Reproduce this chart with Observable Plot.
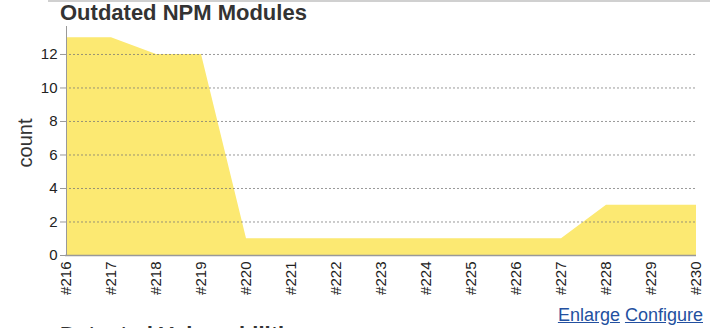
<!DOCTYPE html>
<html>
<head>
<meta charset="utf-8">
<script src="https://cdn.jsdelivr.net/npm/d3@7"></script>
<script src="https://cdn.jsdelivr.net/npm/@observablehq/plot@0.6"></script>
<style>
  html, body { margin: 0; padding: 0; background: #fff; }
  body { width: 710px; height: 328px; position: relative; overflow: hidden; font-family: "Liberation Sans", Arial, sans-serif; }
  #topline { position: absolute; left: 48px; top: 0; width: 662px; height: 2px; background: #d0d0d0; }
  .title { position: absolute; left: 60px; font-size: 22px; font-weight: bold; color: #333; white-space: nowrap; line-height: 1; }
  #ylabel { position: absolute; left: 25px; top: 143px; transform: translate(-50%, -50%) rotate(-90deg); font-size: 20px; color: #333; white-space: nowrap; }
  #links { position: absolute; right: 7px; top: 305px; font-size: 18px; white-space: nowrap; }
  #links a { color: #2350a0; text-decoration: underline; }
  #chart { position: absolute; left: 0; top: 0; }
</style>
</head>
<body>
<div id="topline"></div>
<div class="title" style="top:2px">Outdated NPM Modules</div>
<div id="chart"></div>
<div id="ylabel">count</div>
<div id="links"><a href="#">Enlarge</a> <a href="#">Configure</a></div>
<div class="title" style="top:324px">Detected Vulnerabilities</div>
<script>
const builds = ["#216","#217","#218","#219","#220","#221","#222","#223","#224","#225","#226","#227","#228","#229","#230"];
const counts = [13, 13, 12, 12, 1, 1, 1, 1, 1, 1, 1, 1, 3, 3, 3];
const yTicks = [0, 2, 4, 6, 8, 10, 12];
const gridTicks = [2, 4, 6, 8, 10, 12];

const data = builds.map((b, i) => ({build: b, count: counts[i]}));

const chart = Plot.plot({
  width: 710,
  height: 328,
  marginLeft: 65,
  marginRight: 14,
  marginTop: 26,
  marginBottom: 73,
  style: {fontFamily: "'Liberation Sans', Arial, sans-serif", background: "transparent", color: "#222"},
  x: {type: "point", domain: builds, padding: 0},
  y: {domain: [0, 13.67]},
  marks: [
    Plot.areaY(data, {x: "build", y: "count", fill: "#fce972", curve: "linear"}),
    Plot.ruleY(gridTicks, {stroke: "#777", strokeOpacity: 0.75, strokeDasharray: "2,2", strokeWidth: 1}),
    Plot.ruleY([0], {stroke: "#999", strokeWidth: 1.5}),
    Plot.ruleX([builds[0]], {y1: 0, y2: 13.67, stroke: "#999", strokeWidth: 1}),
    Plot.axisY({ticks: yTicks, tickSize: 5, tickPadding: 3, fontSize: 15, label: null, stroke: "#999", color: "#222"}),
    Plot.axisX({tickRotate: -90, tickSize: 0, tickPadding: 6, fontSize: 15, label: null, color: "#222"})
  ]
});
document.getElementById("chart").appendChild(chart);
</script>
</body>
</html>
